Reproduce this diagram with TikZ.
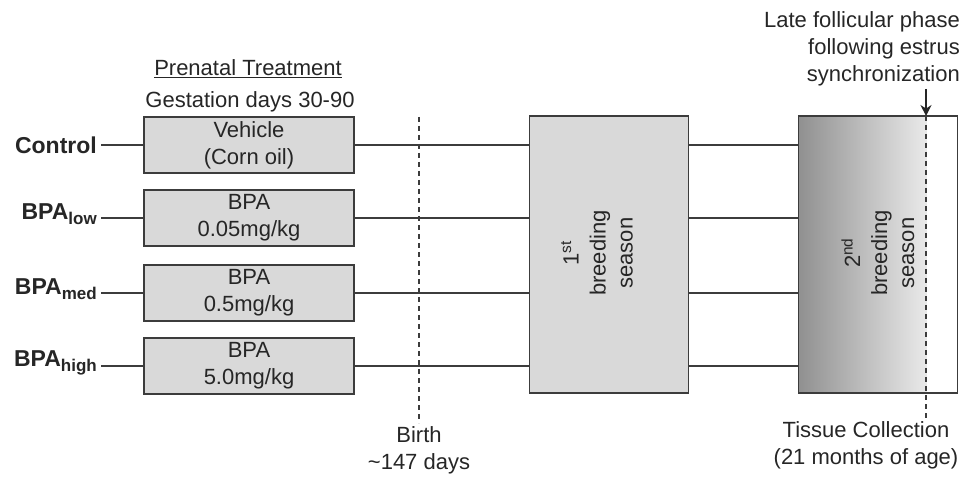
\documentclass[tikz,border=0pt]{standalone}
\usepackage{fontspec}
\setmainfont{Liberation Sans}
\usepackage{xcolor}
\usetikzlibrary{positioning,arrows.meta}
\definecolor{boxgray}{HTML}{D9D9D9}
\definecolor{edgegray}{HTML}{3C3C3C}
\definecolor{shadegray}{HTML}{909090}
\newcommand{\grpsub}[1]{\raisebox{-5pt}{\fontsize{17}{17}\selectfont\textbf{#1}}}

\begin{document}
\begin{tikzpicture}[x=1pt,y=-1pt]
\tikzstyle{every node}+=[font=\fontsize{22}{27}\selectfont, text=black!85]
\tikzstyle{grouplbl}=[inner xsep=4pt, inner ysep=0pt, font=\fontsize{23}{27}\selectfont\bfseries]
\tikzstyle{treatbox}=[draw=edgegray, line width=1.2pt, fill=boxgray, minimum width=210pt, minimum height=56pt, align=center, inner sep=0pt]
\tikzstyle{seasonbox}=[draw=edgegray, line width=1.2pt, minimum width=159pt, minimum height=277pt, inner sep=0pt]
\tikzstyle{link}=[draw=edgegray, line width=1.2pt]
\tikzstyle{timeline}=[draw=edgegray, line width=1.1pt, dash pattern=on 5pt off 4pt]
\useasboundingbox (0,0) rectangle (971,481);
% headings
\node (head) at (248,69) {\underline{Prenatal Treatment}};
\node (gest) at (250,102) {Gestation days 30-90};
% groups
\node[grouplbl, anchor=base east] (c1) at (101,154) {Control};
\node[grouplbl, anchor=base east] (c2) at (101,219) {BPA\grpsub{low}};
\node[grouplbl, anchor=base east] (c3) at (101,294) {BPA\grpsub{med}};
\node[grouplbl, anchor=base east] (c4) at (101,366) {BPA\grpsub{high}};
% treatments
\node[treatbox] (t1) at (249,145) {Vehicle\\(Corn oil)};
\node[treatbox] (t2) at (249,218) {BPA\\0.05mg/kg};
\node[treatbox] (t3) at (249,293) {BPA\\0.5mg/kg};
\node[treatbox] (t4) at (249,366) {BPA\\5.0mg/kg};
% breeding seasons
\node[seasonbox, fill=boxgray] (s1) at (609,254.5) {};
\node[rotate=90, align=center] (s1txt) at (597,253) {1\textsuperscript{st}\\breeding\\season};
\node[seasonbox, path picture={\shade[left color=shadegray, right color=white] (path picture bounding box.north west) rectangle ([xshift=-31pt]path picture bounding box.south east);}] (s2) at (878,254.5) {};
\node[rotate=90, align=center] (s2txt) at (878,253) {2\textsuperscript{nd}\\breeding\\season};
% connectors
\foreach \i in {1,2,3,4} {
  \draw[link] (c\i.east |- t\i) -- (t\i);
  \draw[link] (t\i.east) -- (t\i.east -| s1.west);
  \draw[link] (t\i.east -| s1.east) -- (t\i.east -| s2.west);
}
% birth
\coordinate (b0) at (419,117);
\coordinate (b1) at (419,423);
\draw[timeline] (b0) -- (b1);
\node[below=2pt of b1, align=center, inner sep=1pt] (birth) {Birth\\\textasciitilde147 days};
% tissue collection
\coordinate (k0) at (926,116);
\coordinate (k1) at (926,418);
\draw[timeline] (k0) -- (k1);
\node[anchor=north east, align=right, inner sep=0pt] (late) at (960,11) {Late follicular phase\\following estrus\\synchronization};
\coordinate (ka) at (926,89);
\draw[draw=black!85, line width=1.2pt, -{Stealth[length=11pt,width=11pt]}] (ka) -- (k0);
\node[anchor=north, align=center, inner sep=0pt] (tissue) at (866,421) {Tissue Collection\\(21 months of age)};
\end{tikzpicture}
\end{document}
